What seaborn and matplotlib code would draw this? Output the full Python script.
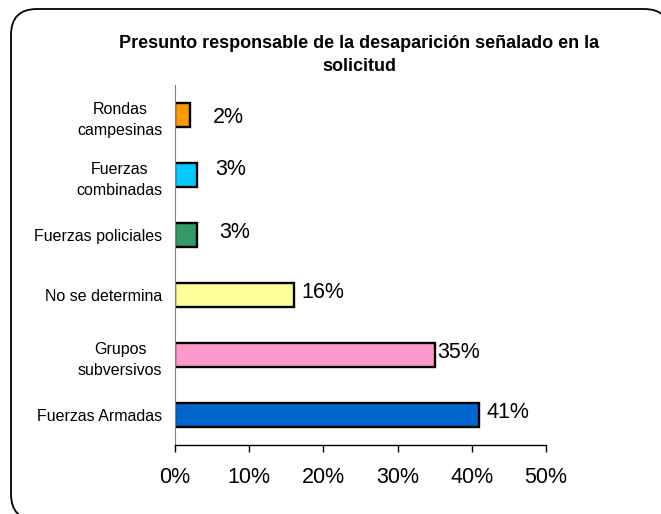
import matplotlib
matplotlib.use("Agg")
import matplotlib.pyplot as plt
import seaborn as sns
import pandas as pd
from matplotlib.patches import FancyBboxPatch
from matplotlib.ticker import FuncFormatter

# datos del grafico
categorias = ["Rondas\ncampesinas", "Fuerzas\ncombinadas", "Fuerzas policiales",
              "No se determina", "Grupos\nsubversivos", "Fuerzas Armadas"]
porcentajes = [2, 3, 3, 16, 35, 41]
colores = ["#FF9900", "#00CCFF", "#339966", "#FFFF99", "#FF99CC", "#0066CC"]
ticks_x = [0, 10, 20, 30, 40, 50]
titulo = "Presunto responsable de la desaparición señalado en la\nsolicitud"

sns.set_style("white", rc={"text.color": "black", "axes.labelcolor": "black",
                           "xtick.color": "black", "ytick.color": "black"})
plt.rcParams["font.family"] = ["Liberation Sans", "DejaVu Sans"]

df = pd.DataFrame({"categoria": categorias, "pct": porcentajes})

fig = plt.figure(figsize=(6.61, 5.14), dpi=100)
ax = fig.add_axes([0.2648, 0.1342, 0.5613, 0.7004])

sns.barplot(data=df, x="pct", y="categoria", hue="categoria", palette=colores,
            order=categorias, hue_order=categorias, legend=False,
            width=0.4, edgecolor="black", linewidth=1.7, saturation=1, ax=ax)

# etiquetas de valores (desplazamiento en puntos, como en el original)
desp = [(16.5, -2), (13, 4), (16, 1.5), (5.5, 1.5), (1.5, 1.5), (5.5, 1.5)]
for i, (v, d) in enumerate(zip(porcentajes, desp)):
    ax.annotate(f"{v}%", xy=(v, i), xytext=d, textcoords="offset points",
                ha="left", va="center", fontsize=15.5)

ax.set_xlim(0, 50)
ax.set_ylim(len(categorias) - 0.5, -0.5)
ax.set_xticks(ticks_x)
ax.xaxis.set_major_formatter(FuncFormatter(lambda x, p: f"{x:.0f}%"))
ax.tick_params(axis="x", labelsize=15.5, length=5, width=1, direction="out",
               bottom=True, pad=11)
ax.tick_params(axis="y", labelsize=11.5, length=0, pad=9)
for lab in ax.get_yticklabels():
    lab.set_multialignment("center")
    lab.set_linespacing(1.55)
ax.set_xlabel("")
ax.set_ylabel("")
sns.despine(ax=ax)
ax.spines["left"].set_color("#808080")
ax.spines["bottom"].set_color("black")
ax.spines["bottom"].set_linewidth(1)

fig.text(0.543, 0.893, titulo, ha="center", va="center", fontsize=13,
         fontweight="bold", linespacing=1.5)

# borde redondeado del grafico (se sale un poco por la derecha y por abajo)
# relleno casi transparente para que Agg no recorte el trazo en el borde
borde = FancyBboxPatch((11, -6), 659, 511,
                       boxstyle="round,pad=0,rounding_size=26",
                       transform=None, facecolor=(1, 1, 1, 0.002),
                       edgecolor="black", linewidth=1.3, zorder=-1)
fig.patches.append(borde)

fig.savefig("out.png", dpi=100)
